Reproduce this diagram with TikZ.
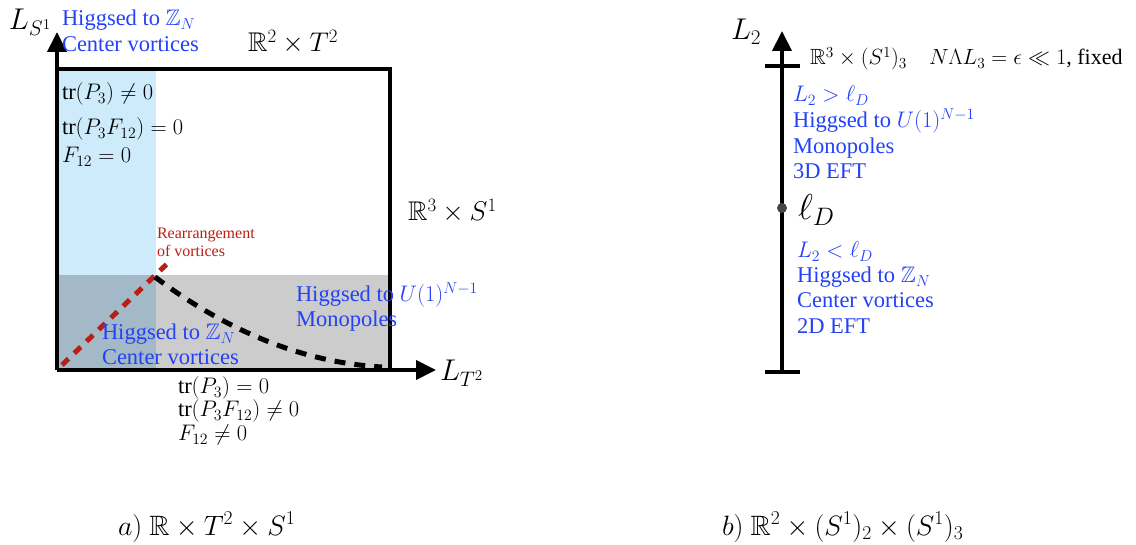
\RequirePackage{fix-cm}
\documentclass[tikz,border=0pt]{standalone}
\usepackage{amsmath,amssymb}
\DeclareFontFamily{U}{msb}{}
\DeclareFontShape{U}{msb}{m}{n}{<-6>msbm5<6-8>msbm7<8->msbm10}{}
\usepackage{fontspec}
\setmainfont{Liberation Serif}
\usetikzlibrary{arrows.meta}
\definecolor{hblue}{RGB}{35,65,245}
\definecolor{vred}{RGB}{185,30,20}
\definecolor{lblue}{RGB}{205,235,251}
\definecolor{lgrey}{RGB}{204,204,204}
\definecolor{mixc}{RGB}{163,185,199}
\definecolor{dotc}{RGB}{70,70,70}
\tikzset{
  lbl/.style={anchor=base west,inner sep=0pt,outer sep=0pt},
  bluetxt/.style={lbl,text=hblue,font=\fontsize{22.5}{26}\selectfont},
  mtxt/.style={lbl,font=\fontsize{22.5}{26}\selectfont},
  bigtxt/.style={lbl,font=\fontsize{30}{34}\selectfont},
  midtxt/.style={lbl,font=\fontsize{27}{31}\selectfont},
  redtxt/.style={lbl,text=vred,font=\fontsize{16}{19}\selectfont},
  axisline/.style={line width=4pt,-{Triangle[length=20pt,width=19pt]}},
  boxline/.style={line width=4pt},
  tickline/.style={line width=4pt},
}
\begin{document}
\begin{tikzpicture}[x=1pt,y=-1pt]
\useasboundingbox (0,0) rectangle (1136,545);
% ---------- panel a ----------
\coordinate (O) at (57,370);
\coordinate (ytip) at (57,32);
\coordinate (xtip) at (436,370);
\fill[lblue] (57,69) rectangle (156,370);
\fill[lgrey] (156,275) rectangle (390,370);
\fill[mixc] (57,275) rectangle (156,370);
\draw[boxline] (57,69) -- (390,69) -- (390,370);
\coordinate (rs) at (62,365);
\coordinate (re) at (170,261);
\draw[vred,line width=5pt,dash pattern=on 9pt off 8pt] (rs) -- (re);
\coordinate (bs) at (155,277);
\coordinate (be) at (382,367);
\draw[black,line width=5pt,dash pattern=on 11pt off 9pt] (bs) .. controls (212,320) and (290,362) .. (be);
\draw[axisline] (O) -- (ytip);
\draw[axisline] (O) -- (xtip);
\node[bigtxt] (LS) at (9,30) {$L_{S^1}$};
\node[bigtxt] (LT) at (440,381) {$L_{T^2}$};
\node[bluetxt] (hz1) at (62,26) {Higgsed to $\mathbb{Z}_N$};
\node[bluetxt] (cv1) at (62,52) {Center vortices};
\node[midtxt] (R2T2) at (248,52) {$\mathbb{R}^2\times T^2$};
\node[mtxt] (t1) at (62,100) {tr$(P_3)\neq 0$};
\node[mtxt] (t2) at (62,135) {tr$(P_3F_{12})=0$};
\node[mtxt] (t3) at (62,163) {$F_{12}=0$};
\node[midtxt] (R3S1) at (408,221) {$\mathbb{R}^3\times S^1$};
\node[redtxt] (rear1) at (157,239) {Rearrangement};
\node[redtxt] (rear2) at (157,257) {of vortices};
\node[bluetxt] (hu) at (296,302) {Higgsed to $U(1)^{N-1}$};
\node[bluetxt] (mono1) at (296,327) {Monopoles};
\node[bluetxt] (hz2) at (102,340) {Higgsed to $\mathbb{Z}_N$};
\node[bluetxt] (cv2) at (102,365) {Center vortices};
\node[mtxt] (b1) at (178,394) {tr$(P_3)=0$};
\node[mtxt] (b2) at (178,417) {tr$(P_3F_{12})\neq 0$};
\node[mtxt] (b3) at (178,441) {$F_{12}\neq 0$};
\node[lbl,font=\fontsize{28}{32}\selectfont] (capa) at (118,535) {$a)\ \mathbb{R}\times T^2\times S^1$};
% ---------- panel b ----------
\coordinate (B0) at (782,372);
\coordinate (Btip) at (782,31);
\coordinate (tkL) at (765,66);
\coordinate (tkR) at (800,66);
\coordinate (bkL) at (765,372);
\coordinate (bkR) at (800,372);
\draw[axisline] (B0) -- (Btip);
\draw[tickline] (tkL) -- (tkR);
\draw[tickline] (bkL) -- (bkR);
\node[circle,fill=dotc,inner sep=0pt,minimum size=10pt] (dot) at (782,208) {};
\node[lbl,font=\fontsize{30}{34}\selectfont] (L2) at (731,40) {$L_2$};
\node[lbl,font=\fontsize{22}{26}\selectfont] (top) at (810,65) {$\mathbb{R}^3\times(S^1)_3\quad N\Lambda L_3=\epsilon\ll 1$, fixed};
\node[bluetxt] (g1) at (793,102) {$L_2>\ell_D$};
\node[bluetxt] (g2) at (793,128) {Higgsed to $U(1)^{N-1}$};
\node[bluetxt] (g3) at (793,154) {Monopoles};
\node[bluetxt] (g4) at (793,179) {3D EFT};
\node[lbl,font=\fontsize{36}{40}\selectfont] (lD) at (798,220) {$\ell_D$};
\node[bluetxt] (h1) at (797,258) {$L_2<\ell_D$};
\node[bluetxt] (h2) at (797,283) {Higgsed to $\mathbb{Z}_N$};
\node[bluetxt] (h3) at (797,308) {Center vortices};
\node[bluetxt] (h4) at (797,334) {2D EFT};
\node[lbl,font=\fontsize{28}{32}\selectfont] (capb) at (722,535) {$b)\ \mathbb{R}^2\times(S^1)_2\times(S^1)_3$};
\end{tikzpicture}
\end{document}
